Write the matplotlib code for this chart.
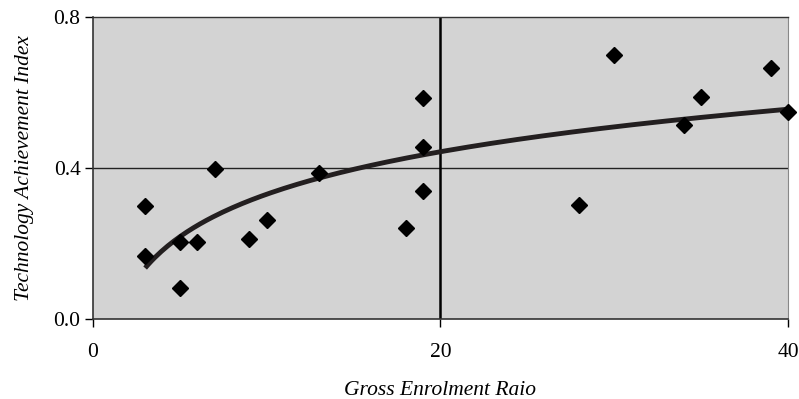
import numpy as np
import matplotlib
matplotlib.use("Agg")
import matplotlib.pyplot as plt

# gross enrolment ratio vs technology achievement index
enrolment = [3, 3, 5, 5, 6, 7, 9, 10, 13, 18, 19, 19, 19, 28, 30, 34, 35, 39, 40]
tai = [0.299, 0.167, 0.204, 0.082, 0.204, 0.397, 0.212, 0.262, 0.387, 0.241,
       0.585, 0.456, 0.339, 0.302, 0.699, 0.514, 0.588, 0.665, 0.548]

x_ticks = [0, 20, 40]
y_ticks = [0.0, 0.4, 0.8]

plt.rcParams["font.family"] = ["Liberation Serif", "DejaVu Serif"]

fig = plt.figure(figsize=(7.99, 3.99), dpi=100)
ax = fig.add_axes([0.1164, 0.2005, 0.8698, 0.7569])
ax.set_facecolor("#d3d3d3")

# logarithmic trend line
b, a = np.polyfit(np.log(enrolment), tai, 1)
xs = np.linspace(min(enrolment), max(enrolment), 200)
ax.plot(xs, a + b * np.log(xs), color="#231f20", lw=3.5, zorder=3, solid_capstyle="butt")

ax.plot(enrolment, tai, "D", color="black", markersize=8.5, zorder=4, clip_on=False)

ax.axhline(0.4, color="#222222", lw=1, zorder=2)
ax.axvline(20, color="black", lw=1.8, zorder=2)

ax.set_xlim(0, 40)
ax.set_ylim(0, 0.8)
ax.set_xticks(x_ticks)
ax.set_yticks(y_ticks)
ax.set_xticklabels([str(v) for v in x_ticks])
ax.set_yticklabels([f"{v:.1f}" for v in y_ticks])
ax.tick_params(direction="out", length=6, width=1, labelsize=15.5, colors="black")
ax.tick_params(axis="x", pad=11)
ax.tick_params(axis="y", pad=3)

for s in ["left", "bottom"]:
    ax.spines[s].set_color("#333333")
    ax.spines[s].set_linewidth(1.2)
ax.spines["top"].set_color("#333333")
ax.spines["top"].set_linewidth(1)
ax.spines["right"].set_color("#888888")
ax.spines["right"].set_linewidth(0.8)

ax.set_xlabel("Gross Enrolment Raio", fontsize=15.5, style="italic", labelpad=14)
ax.set_ylabel("Technology Achievement Index", fontsize=15.5, style="italic", labelpad=14)

fig.savefig("out.png", dpi=100)
